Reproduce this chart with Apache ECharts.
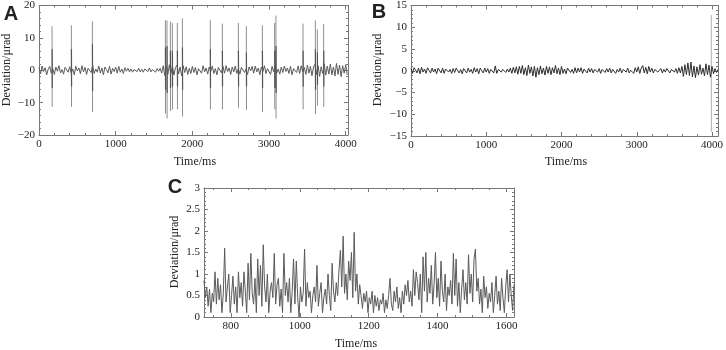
<!DOCTYPE html>
<html>
<head>
<meta charset="utf-8">
<script src="https://cdn.jsdelivr.net/npm/echarts@6/dist/echarts.min.js"></script>
<style>
  html, body { margin: 0; padding: 0; background: #fff; }
  #chart { width: 726px; height: 350px; }
</style>
</head>
<body>
<div id="chart"></div>
<script>
// panel A: baseline deviation, one value every 20 ms from 0 ms
var aStep = 20;
var aNoise = [
  0.9, -1.1, 1.3, -0.4, 0.8, -1.4, 0.3, 1.2, -0.9, 0.5,
  -1.3, 1.0, -0.3, 1.4, -0.8, 0.2, -1.2, 0.9, 1.3, -0.6,
  1.1, -0.9, 0.4, -1.4, 1.2, -0.2, 0.7, -1.1, 1.4, -0.5,
  0.9, -1.3, 0.6, 1.2, -0.7, 1.5, -1.0, 0.4, -0.6, 1.3,
  -0.9, 0.7, -1.4, 1.0, 0.2, -0.8, 1.2, -1.2, 0.6, -0.4,
  1.0, -0.9, 1.2, -0.6, 0.4, -1.0, 0.8, -0.3, 0.6, -0.5,
  0.4, -0.6, 0.2, 0.5, -0.4, 0.6, -0.5, 0.3, -0.6, 0.4,
  0.5, -0.4, 0.7, -0.5, 0.2, 0.4, -0.6, 0.5, -0.3, 0.6,
  -0.9, 1.4, -1.6, 1.1, -1.3, 1.7, -1.0, 1.3, -1.5, 0.8,
  1.6, -1.1, 1.0, -1.7, 1.4, -0.7, 1.1, -1.3, 0.6, -1.0,
  1.2, -0.7, 0.9, -1.4, 0.5, 1.1, -0.9, 1.4, -0.5, 0.7,
  -1.2, 1.0, -0.4, 1.3, -1.0, 0.5, -1.4, 0.9, 0.3, -0.8,
  1.2, -0.9, 1.4, -0.4, 0.7, -1.3, 1.0, -0.5, 1.3, -1.0,
  0.5, -1.2, 0.9, 1.4, -0.7, 0.4, -1.3, 1.0, -0.2, 1.2,
  -0.9, 1.3, -0.5, 0.7, -1.4, 1.0, -0.4, 1.4, -1.0, 0.5,
  0.9, -1.3, 1.2, -0.5, 1.4, -0.9, 0.4, -1.2, 1.0, -0.7,
  1.3, -0.4, 0.7, -1.0, 1.2, -1.4, 0.5, 0.9, -0.7, 1.3,
  -1.0, 1.4, -0.5, 0.9, -1.3, 1.6, -0.9, 1.2, -1.7, 1.0,
  1.8, -1.3, 1.4, -1.9, 1.1, -1.0, 2.0, -1.5, 1.3, -1.2,
  1.9, -1.4, 1.0, -1.8, 2.1, -1.3, 1.6, -2.0, 1.4, -0.9,
  1.7, -1.4
];
// panel A spikes: time (ms), outer top / bottom, darker inner swing
var aSpikeTime = [170, 422, 696, 1648, 1669, 1713, 1739, 1804, 1870, 2234, 2391, 2600, 2704, 2913, 3073, 3090, 3443, 3604, 3630, 3712];
var aSpikeHigh = [13.6, 13.9, 15.1, 15.4, 15.4, 15.1, 14.6, 14.6, 16.0, 15.6, 14.4, 14.6, 13.6, 13.9, 14.6, 16.9, 14.4, 15.4, 12.6, 14.3];
var aSpikeLow = [-11.3, -11.3, -12.9, -13.4, -14.9, -12.6, -12.1, -12.1, -14.3, -12.1, -12.1, -11.6, -12.3, -12.9, -12.1, -14.9, -12.1, -13.6, -10.9, -11.3];
var aCoreHigh = [6.5, 6.5, 8.0, 7.0, 7.5, 6.0, 6.0, 6.0, 7.0, 6.5, 6.0, 6.0, 5.5, 6.0, 6.0, 7.5, 6.0, 6.5, 5.5, 6.0];
var aCoreLow = [-5.5, -5.0, -6.5, -6.0, -7.0, -5.5, -5.0, -5.0, -6.0, -5.5, -5.0, -5.0, -5.0, -5.5, -5.5, -7.0, -5.0, -6.0, -4.5, -5.0];

// panel B: baseline deviation, one value every 20 ms from 0 ms
var bStep = 20;
var bNoise = [
  0.5, -0.6, 0.7, 0.2, -0.5, 0.6, -0.7, 0.8, -0.3, 0.4,
  -0.6, 0.7, 0.1, -0.5, 0.6, -0.3, 0.4, -0.7, 0.6, 0.2,
  -0.5, 0.6, -0.6, 0.4, 0.7, -0.3, 0.3, -0.6, 0.5, -0.4,
  0.6, 0.9, -0.5, 0.3, -0.7, 0.5, 0.1, -0.5, 0.6, -0.3,
  0.3, -0.6, 0.7, -0.3, 0.5, -0.7, 0.6, 0.0, -0.5, 0.6,
  -0.3, 0.5, -0.6, 0.3, 0.6, -0.5, 1.1, -0.6, 0.3, -0.1,
  -0.3, 0.3, 0.1, -0.4, 0.4, -0.3, 0.6, -0.6, 0.8, -0.5,
  0.9, -0.8, 1.0, -0.6, 1.2, -0.9, 0.7, -1.1, 1.3, -0.6,
  0.9, -1.2, 1.0, -1.5, 0.7, -0.9, 1.1, -0.7, 0.6, -1.0,
  1.0, -0.6, 0.9, -0.9, 0.7, -0.5, 1.2, -0.7, 0.6, -0.9,
  1.0, -0.6, 0.4, -0.7, 0.6, 0.9, -0.4, 0.3, -0.6, 0.7,
  -0.5, 0.6, -0.3, 0.7, -0.6, 0.4, 0.1, -0.5, 0.6, -0.3,
  0.5, -0.5, 0.3, 0.6, -0.3, 0.5, -0.6, 0.3, 0.1, -0.4,
  0.5, -0.3, 0.6, -0.5, 0.3, 0.5, -0.6, 0.3, -0.3, 0.6,
  -0.5, 0.3, 0.5, -0.3, 0.6, -0.5, 0.1, 0.5, -0.6, 0.7,
  -0.3, 0.9, -0.6, 0.6, 1.2, -0.5, 0.8, -0.7, 1.0, -0.3,
  0.6, -0.5, 0.3, 0.5, -0.3, 0.1, 0.5, -0.5, 0.3, -0.3,
  0.5, 0.1, -0.5, 0.3, 0.6, -0.3, 0.5, -0.6, 0.7, -0.5,
  1.0, -1.3, 1.4, -0.9, 1.8, -1.1, 2.0, -1.4, 1.1, -1.6,
  0.9, -1.0, 1.4, -0.8, 0.6, -1.2, 1.6, -0.9, 1.3, -1.5,
  1.0, -0.7, 0.5, -0.4, 0.3
];
var bSpikeTime = [3990];
var bSpikeHigh = [12.8];
var bSpikeLow = [-14.0];

// panel C: deviation, one value every 4 ms from 722 ms
var cStart = 722;
var cStep = 4;
var cValues = [
  0.85, 0.45, 0.7, 0.25, 0.65, 0.1, 0.55, 0.35, 1.05, 0.3,
  0.9, 0.4, 0.75, 0.1, 0.55, 1.6, 0.35, 0.7, 1.0, 0.1,
  0.5, 0.95, 0.3, 0.7, 0.1, 1.05, 0.45, 0.8, 0.25, 1.05,
  0.6, 0.1, 1.25, 0.4, 1.48, 0.55, 0.3, 0.9, 0.1, 1.35,
  0.5, 1.2, 0.25, 1.68, 0.7, 0.35, 1.0, 0.1, 0.6, 0.8,
  0.45, 1.48, 0.3, 0.75, 0.9, 0.25, 0.65, 0.1, 1.48, 0.5,
  0.8, 0.35, 0.9, 0.1, 0.6, 1.35, 0.3, 1.3, 0.45, 0.0,
  0.7, 0.35, 0.55, 1.58, 0.25, 0.8, 0.45, 0.6, 0.1, 0.5,
  0.7, 0.35, 1.2, 0.25, 0.55, 0.8, 0.1, 0.45, 0.65, 0.3,
  1.0, 0.5, 0.15, 1.25, 0.6, 0.35, 0.8, 0.5, 1.1, 1.55,
  0.7, 1.88, 0.55, 1.0, 0.4, 1.3, 0.85, 1.5, 0.45, 1.97,
  0.6, 1.0, 0.3, 0.75, 0.5, 0.2, 0.55, 0.35, 0.6, 0.1,
  0.45, 0.3, 0.6, 0.1, 0.5, 0.25, 0.45, 0.15, 0.4, 0.3,
  0.55, 0.1, 0.4, 0.2, 0.5, 0.9, 0.3, 0.15, 0.6, 0.35,
  0.7, 0.2, 0.45, 0.1, 0.6, 0.3, 0.75, 0.5, 0.85, 0.35,
  0.6, 0.25, 1.1, 0.5, 1.05, 0.8, 0.4, 1.0, 0.1, 1.4,
  0.6, 1.5, 0.35, 0.9, 0.55, 1.2, 0.3, 0.75, 1.5, 0.45,
  0.9, 0.25, 1.3, 0.6, 0.35, 1.0, 0.15, 0.7, 0.5, 0.85,
  0.3, 1.48, 0.5, 1.35, 0.25, 0.8, 0.1, 0.65, 1.1, 0.4,
  0.8, 0.3, 1.45, 0.55, 1.0, 0.35, 1.35, 1.58, 0.6, 0.9,
  0.3, 0.65, 0.1, 0.95, 0.45, 0.7, 0.2, 0.55, 0.35, 0.8,
  0.1, 0.5, 0.95, 0.3, 0.6, 0.15, 0.9, 0.45, 0.1, 0.7,
  1.1, 0.35, 1.0, 0.5, 0.15, 0.75
];

var serif = "'Liberation Serif', 'DejaVu Serif', serif";
var frameColor = "#777";

function steps(min, max, step) {
  // interval counts from min, so only use it when min sits on the step
  if (min % step === 0) return { min: min, max: max, interval: step };
  return { min: min, max: max, minInterval: step, maxInterval: step };
}

function makeAxes(dim, gi, min, max, major, minor, labelOpt) {
  var out = [];
  var sides = dim === "x" ? ["bottom", "top"] : ["left", "right"];
  sides.forEach(function (pos, s) {
    var main = Object.assign(steps(min, max, major), {
      type: "value",
      gridIndex: gi,
      position: pos,
      axisLine: { show: true, onZero: false, lineStyle: { color: frameColor, width: 1 } },
      axisTick: { show: true, inside: true, length: 4, lineStyle: { color: frameColor } },
      axisLabel: s === 0 ? labelOpt : { show: false },
      splitLine: { show: false },
    });
    var small = Object.assign(steps(min, max, minor), {
      type: "value",
      gridIndex: gi,
      position: pos,
      axisLine: { show: false, onZero: false },
      axisTick: { show: true, inside: true, length: 2, lineStyle: { color: frameColor } },
      axisLabel: { show: false },
      splitLine: { show: false },
    });
    out.push(main, small);
  });
  return out;
}

function label(extra) {
  return Object.assign({
    show: true,
    color: "#222",
    fontFamily: serif,
    fontSize: 11,
    margin: 4,
    formatter: function (v) { return String(v).replace("-", "\u2212"); },
  }, extra);
}

// each spike is a short up/down stroke, broken from the next one
function spikeData(times, highs, lows, offset) {
  var d = [];
  for (var i = 0; i < times.length; i++) {
    d.push([times[i] + offset, highs[i]]);
    d.push([times[i] + offset + 2, lows[i]]);
    d.push([times[i] + offset + 3, "-"]);
  }
  return d;
}

var aData = aNoise.map(function (v, i) { return [i * aStep, v]; });
var bData = bNoise.map(function (v, i) { return [i * bStep, v]; });
var cData = cValues.map(function (v, i) { return [cStart + i * cStep, v]; });

var xAxes = []
  .concat(makeAxes("x", 0, 0, 4030, 1000, 200, label({ showMinLabel: true, showMaxLabel: false })))
  .concat(makeAxes("x", 1, 0, 4080, 1000, 200, label({ showMinLabel: true, showMaxLabel: false })))
  .concat(makeAxes("x", 2, 722, 1622, 200, 50, label({ showMinLabel: false, showMaxLabel: false })));
var yAxes = []
  .concat(makeAxes("y", 0, -20, 20, 10, 2, label({ showMinLabel: true, showMaxLabel: true })))
  .concat(makeAxes("y", 1, -15, 15, 5, 1, label({ showMinLabel: true, showMaxLabel: true })))
  .concat(makeAxes("y", 2, 0, 3, 0.5, 0.1, label({ showMinLabel: true, showMaxLabel: true })));

function line(idx, data, color, width, z) {
  return {
    type: "line",
    xAxisIndex: idx * 4,
    yAxisIndex: idx * 4,
    data: data,
    showSymbol: false,
    connectNulls: false,
    clip: true,
    z: z,
    lineStyle: { color: color, width: width },
    emphasis: { disabled: true },
  };
}

function txt(x, y, text, font, rotate) {
  return {
    type: "text",
    x: x,
    y: y,
    rotation: rotate ? Math.PI / 2 : 0,
    style: {
      text: text,
      font: font,
      fill: "#222",
      align: "center",
      verticalAlign: "middle",
    },
  };
}

var myChart = echarts.init(document.getElementById("chart"));
var option = {
  animation: false,
  backgroundColor: "#fff",
  grid: [
    { left: 39, top: 4, width: 309, height: 131 },
    { left: 411, top: 5, width: 309, height: 131 },
    { left: 204, top: 188, width: 310, height: 129 },
  ],
  xAxis: xAxes,
  yAxis: yAxes,
  series: [
    line(0, spikeData(aSpikeTime, aSpikeHigh, aSpikeLow, 0), "#8f8f8f", 1, 2),
    line(0, aData, "#5a5a5a", 1, 3),
    line(0, spikeData(aSpikeTime, aCoreHigh, aCoreLow, 1), "#555", 1.2, 4),
    line(1, spikeData(bSpikeTime, bSpikeHigh, bSpikeLow, 0), "#b0b0b0", 1, 2),
    line(1, bData, "#2e2e2e", 1, 3),
    line(2, cData, "#5a5a5a", 1, 3),
  ],
  graphic: [
    txt(11, 14, "A", "bold 20px 'Liberation Sans', Arial, sans-serif"),
    txt(379, 12, "B", "bold 20px 'Liberation Sans', Arial, sans-serif"),
    txt(175, 187, "C", "bold 20px 'Liberation Sans', Arial, sans-serif"),
    txt(7, 70, "Deviation/\u03bcrad", "12px " + serif, true),
    txt(378, 70, "Deviation/\u03bcrad", "12px " + serif, true),
    txt(175, 252, "Deviation/\u03bcrad", "12px " + serif, true),
    txt(195, 162, "Time/ms", "12px " + serif),
    txt(566, 162, "Time/ms", "12px " + serif),
    txt(356, 344, "Time/ms", "12px " + serif),
  ],
};
myChart.setOption(option);
window.addEventListener("resize", function () {
  myChart.resize();
});
</script>
</body>
</html>
